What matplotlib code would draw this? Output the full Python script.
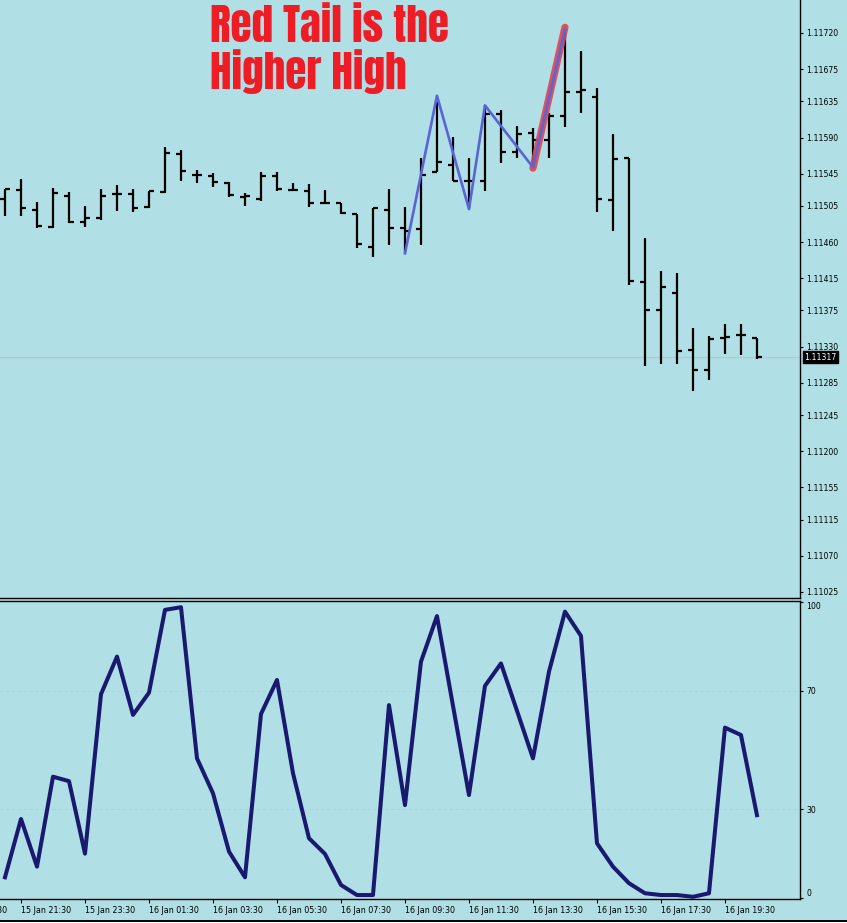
import matplotlib
matplotlib.use("Agg")
import matplotlib.pyplot as plt
import pandas as pd
from matplotlib.lines import Line2D

# EURUSD M30, 15-16 Jan
bar_open = [1.11514, 1.11525, 1.11500, 1.11479, 1.11517, 1.11485, 1.11490, 1.11520,
            1.11520, 1.11504, 1.11522, 1.11570, 1.11544, 1.11542, 1.11533, 1.11516,
            1.11514, 1.11542, 1.11525, 1.11524, 1.11508, 1.11508, 1.11495, 1.11454,
            1.11500, 1.11478, 1.11476, 1.11547, 1.11556, 1.11536, 1.11536, 1.11619,
            1.11572, 1.11596, 1.11587, 1.11617, 1.11647, 1.11641, 1.11512, 1.11564,
            1.11410, 1.11375, 1.11397, 1.11326, 1.11301, 1.11341, 1.11344, 1.11341]
bar_high = [1.11526, 1.11538, 1.11510, 1.11527, 1.11522, 1.11505, 1.11526, 1.11531,
            1.11526, 1.11523, 1.11578, 1.11575, 1.11550, 1.11546, 1.11535, 1.11521,
            1.11547, 1.11547, 1.11533, 1.11532, 1.11525, 1.11509, 1.11495, 1.11502,
            1.11526, 1.11504, 1.11564, 1.11634, 1.11591, 1.11564, 1.11630, 1.11624,
            1.11604, 1.11602, 1.11620, 1.11724, 1.11698, 1.11652, 1.11595, 1.11564,
            1.11465, 1.11424, 1.11421, 1.11353, 1.11343, 1.11358, 1.11358, 1.11341]
bar_low = [1.11492, 1.11492, 1.11478, 1.11478, 1.11484, 1.11479, 1.11487, 1.11499,
           1.11498, 1.11503, 1.11521, 1.11536, 1.11534, 1.11528, 1.11516, 1.11505,
           1.11511, 1.11524, 1.11523, 1.11504, 1.11507, 1.11495, 1.11453, 1.11442,
           1.11457, 1.11447, 1.11457, 1.11547, 1.11536, 1.11501, 1.11524, 1.11558,
           1.11564, 1.11553, 1.11565, 1.11603, 1.11621, 1.11498, 1.11474, 1.11407,
           1.11306, 1.11308, 1.11308, 1.11275, 1.11288, 1.11321, 1.11320, 1.11315]
bar_close = [1.11526, 1.11502, 1.11480, 1.11521, 1.11485, 1.11490, 1.11517, 1.11520,
             1.11502, 1.11523, 1.11571, 1.11548, 1.11544, 1.11535, 1.11518, 1.11517,
             1.11542, 1.11526, 1.11525, 1.11509, 1.11508, 1.11496, 1.11458, 1.11502,
             1.11478, 1.11474, 1.11543, 1.11560, 1.11536, 1.11536, 1.11619, 1.11572,
             1.11595, 1.11587, 1.11617, 1.11647, 1.11649, 1.11514, 1.11563, 1.11412,
             1.11375, 1.11404, 1.11324, 1.11301, 1.11340, 1.11342, 1.11344, 1.11317]

osc = [7, 26.7, 10.6, 41, 39.5, 15, 68.9, 81.6, 61.9, 69.4, 97.4, 98.3,
       47.2, 35.4, 15.7, 7, 62.2, 73.7, 42.2, 20.2, 14.9, 4.4, 1, 1,
       65.2, 31.4, 79.9, 95.3, 65, 34.8, 71.7, 79.3, 63.3, 47.2, 76.5, 96.8,
       88.6, 18.5, 10.6, 5, 1.6, 1, 1, 0.4, 1.6, 57.6, 55.1, 28]

# zigzag pivots (bar index, price)
zz_bar = [25, 27, 29, 30, 33, 35]
zz_price = [1.11446, 1.11642, 1.11501, 1.11630, 1.11553, 1.11724]
red_bar = [33, 35]
red_price = [1.11552, 1.11727]

price_ticks = [1.11720, 1.11675, 1.11635, 1.11590, 1.11545, 1.11505, 1.11460, 1.11415,
               1.11375, 1.11330, 1.11285, 1.11245, 1.11200, 1.11155, 1.11115, 1.11070,
               1.11025]
last_price = 1.11317
osc_levels = [0, 30, 70, 100]

time_labels = ["15 Jan 19:30", "15 Jan 21:30", "15 Jan 23:30", "16 Jan 01:30",
               "16 Jan 03:30", "16 Jan 05:30", "16 Jan 07:30", "16 Jan 09:30",
               "16 Jan 11:30", "16 Jan 13:30", "16 Jan 15:30", "16 Jan 17:30",
               "16 Jan 19:30"]

t0 = pd.Timestamp("2020-01-15 21:00")
step = pd.Timedelta("30min")
tick_pos = [(pd.to_datetime("2020 " + s, format="%Y %d %b %H:%M") - t0) / step
            for s in time_labels]
xs = list(range(len(bar_open)))

BG = "#b0dfe5"
W, H = 847, 923
XLIM = (-0.3125, 49.69)
TITLE_FONT = ["Anton", "Oswald", "Roboto Condensed", "DejaVu Sans"]
fig = plt.figure(figsize=(W / 100, H / 100), dpi=100, facecolor=BG)


def box(l, t, r, b):
    return [l / W, 1 - b / H, (r - l) / W, (b - t) / H]


ax1 = fig.add_axes(box(0, 0, 800, 598))
ax2 = fig.add_axes(box(0, 601, 800, 899))
for ax in (ax1, ax2):
    ax.set_facecolor(BG)
    ax.spines["left"].set_visible(False)
    for s in ("right", "bottom", "top"):
        ax.spines[s].set_color("black")
        ax.spines[s].set_linewidth(1.0)
    ax.yaxis.tick_right()
    ax.tick_params(axis="y", direction="out", length=2.5, width=0.8, pad=2,
                   labelsize=5.6, colors="black")
ax1.spines["top"].set_visible(False)

# price bars
ax1.vlines(xs, bar_low, bar_high, color="black", lw=1.6)
ax1.hlines(bar_open, [x - 0.33 for x in xs], xs, color="black", lw=1.6)
ax1.hlines(bar_close, xs, [x + 0.33 for x in xs], color="black", lw=1.6)
ax1.axhline(last_price, color="#c9c0c0", lw=0.8, zorder=0)

ax1.plot(red_bar, red_price, color="#e2424e", lw=5.2, alpha=0.9,
         solid_capstyle="round", zorder=3)
ax1.plot(zz_bar, zz_price, color="#5964d6", lw=1.9, zorder=4)

ax1.set_ylim(1.110175, 1.11761)
ax1.set_yticks(price_ticks)
ax1.set_yticklabels([f"{p:.5f}" for p in price_ticks])
ax1.set_xticks([])
ax1.annotate(f"{last_price:.5f}", xy=(1, last_price), xycoords=("axes fraction", "data"),
             xytext=(4, 0), textcoords="offset pixels", va="center", ha="left",
             fontsize=5.6, color="white",
             bbox=dict(boxstyle="square,pad=0.18", fc="black", ec="black"))

# oscillator
ax2.plot(xs, osc, color="#191970", lw=2.9)
for lv in (30, 70):
    ax2.axhline(lv, color="#c8c8c8", lw=0.7, ls=(0, (3, 3)), zorder=0)
ax2.set_ylim(-0.34, 100.4)
ax2.set_yticks(osc_levels)
ax2.set_yticklabels([str(v) for v in osc_levels])
lbls = ax2.get_yticklabels()
lbls[0].set_va("bottom")
lbls[-1].set_va("top")
ax2.set_xticks(tick_pos[1:])
ax2.set_xticklabels(time_labels[1:], ha="left")
ax2.tick_params(axis="x", direction="out", length=3, width=0.8, pad=2,
                labelsize=5.8, colors="black")
ax1.set_xlim(*XLIM)
ax2.set_xlim(*XLIM)
# first label sits left of the visible range, only its tail shows
ax2.annotate(time_labels[0], xy=(tick_pos[0], 0), xycoords=("data", "axes fraction"),
             xytext=(0, -5), textcoords="offset points", ha="left", va="top",
             fontsize=5.8, annotation_clip=False)

fig.text(210 / W, 1 - 42 / H, "Red Tail is the", color="#ee1c25", fontsize=31,
         family=TITLE_FONT, va="baseline")
fig.text(210 / W, 1 - 89 / H, "Higher High", color="#ee1c25", fontsize=31,
         family=TITLE_FONT, va="baseline")

fig.add_artist(Line2D([0, 1], [1 - 920.5 / H] * 2, color="black", lw=1.4))
fig.add_artist(Line2D([0, 1], [1 - 922.5 / H] * 2, color="white", lw=1.4))

fig.savefig("out.png", dpi=100, facecolor=BG)
